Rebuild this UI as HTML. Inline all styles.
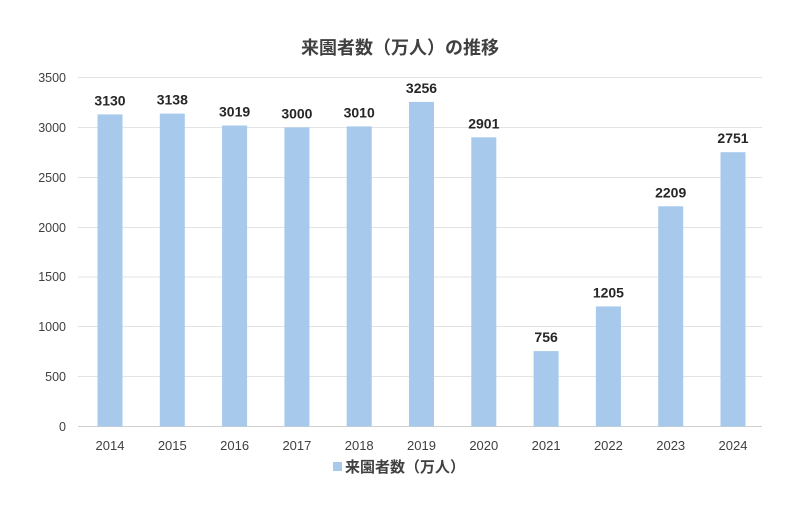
<!DOCTYPE html>
<html><head><meta charset="utf-8"><style>
body{margin:0;background:#fff;}
text{font-family:"Liberation Sans","Noto Sans CJK JP",sans-serif;}
</style></head><body>
<svg width="800" height="521" viewBox="0 0 800 521" xmlns="http://www.w3.org/2000/svg">
<rect width="800" height="521" fill="#fff"/>
<text x="400" y="54" text-anchor="middle" font-size="18" font-weight="bold" fill="#404040">来園者数（万人）の推移</text>
<g stroke="#e3e3e3" stroke-width="1">
<line x1="78" x2="762" y1="77.5" y2="77.5"/>
<line x1="78" x2="762" y1="127.5" y2="127.5"/>
<line x1="78" x2="762" y1="177.5" y2="177.5"/>
<line x1="78" x2="762" y1="227.5" y2="227.5"/>
<line x1="78" x2="762" y1="277" y2="277"/>
<line x1="78" x2="762" y1="326.5" y2="326.5"/>
<line x1="78" x2="762" y1="376.5" y2="376.5"/>
</g>
<line x1="78" x2="762" y1="426.5" y2="426.5" stroke="#d0d0d0"/>
<g font-size="12.5" fill="#404040" text-anchor="end">
<text x="66" y="82">3500</text><text x="66" y="132">3000</text><text x="66" y="182">2500</text>
<text x="66" y="232">2000</text><text x="66" y="281">1500</text><text x="66" y="331">1000</text>
<text x="66" y="381">500</text><text x="66" y="431">0</text>
</g>
<g fill="#a6c9ec">
<rect x="97.5" y="114.4" width="25" height="312.1"/>
<rect x="159.8" y="113.6" width="25" height="312.9"/>
<rect x="222.1" y="125.5" width="25" height="301"/>
<rect x="284.4" y="127.4" width="25" height="299.1"/>
<rect x="346.7" y="126.4" width="25" height="300.1"/>
<rect x="409" y="101.9" width="25" height="324.6"/>
<rect x="471.3" y="137.3" width="25" height="289.2"/>
<rect x="533.6" y="351.1" width="25" height="75.4"/>
<rect x="595.9" y="306.4" width="25" height="120.1"/>
<rect x="658.2" y="206.3" width="25" height="220.2"/>
<rect x="720.5" y="152.2" width="25" height="274.3"/>
</g>
<g font-size="13" fill="#404040" text-anchor="middle">
<text x="110" y="450">2014</text><text x="172.3" y="450">2015</text><text x="234.6" y="450">2016</text>
<text x="296.9" y="450">2017</text><text x="359.2" y="450">2018</text><text x="421.5" y="450">2019</text>
<text x="483.8" y="450">2020</text><text x="546.1" y="450">2021</text><text x="608.4" y="450">2022</text>
<text x="670.7" y="450">2023</text><text x="733" y="450">2024</text>
</g>
<g font-size="14" font-weight="bold" fill="#262626" text-anchor="middle">
<text x="110" y="105.4">3130</text><text x="172.3" y="104.6">3138</text><text x="234.6" y="116.5">3019</text>
<text x="296.9" y="118.4">3000</text><text x="359.2" y="117.4">3010</text><text x="421.5" y="92.9">3256</text>
<text x="483.8" y="128.3">2901</text><text x="546.1" y="342.1">756</text><text x="608.4" y="297.4">1205</text>
<text x="670.7" y="197.3">2209</text><text x="733" y="143.2">2751</text>
</g>
<rect x="333" y="462" width="9" height="9" fill="#a6c9ec"/>
<text x="345" y="472" font-size="15" font-weight="bold" fill="#404040">来園者数（万人）</text>
</svg>
</body></html>
